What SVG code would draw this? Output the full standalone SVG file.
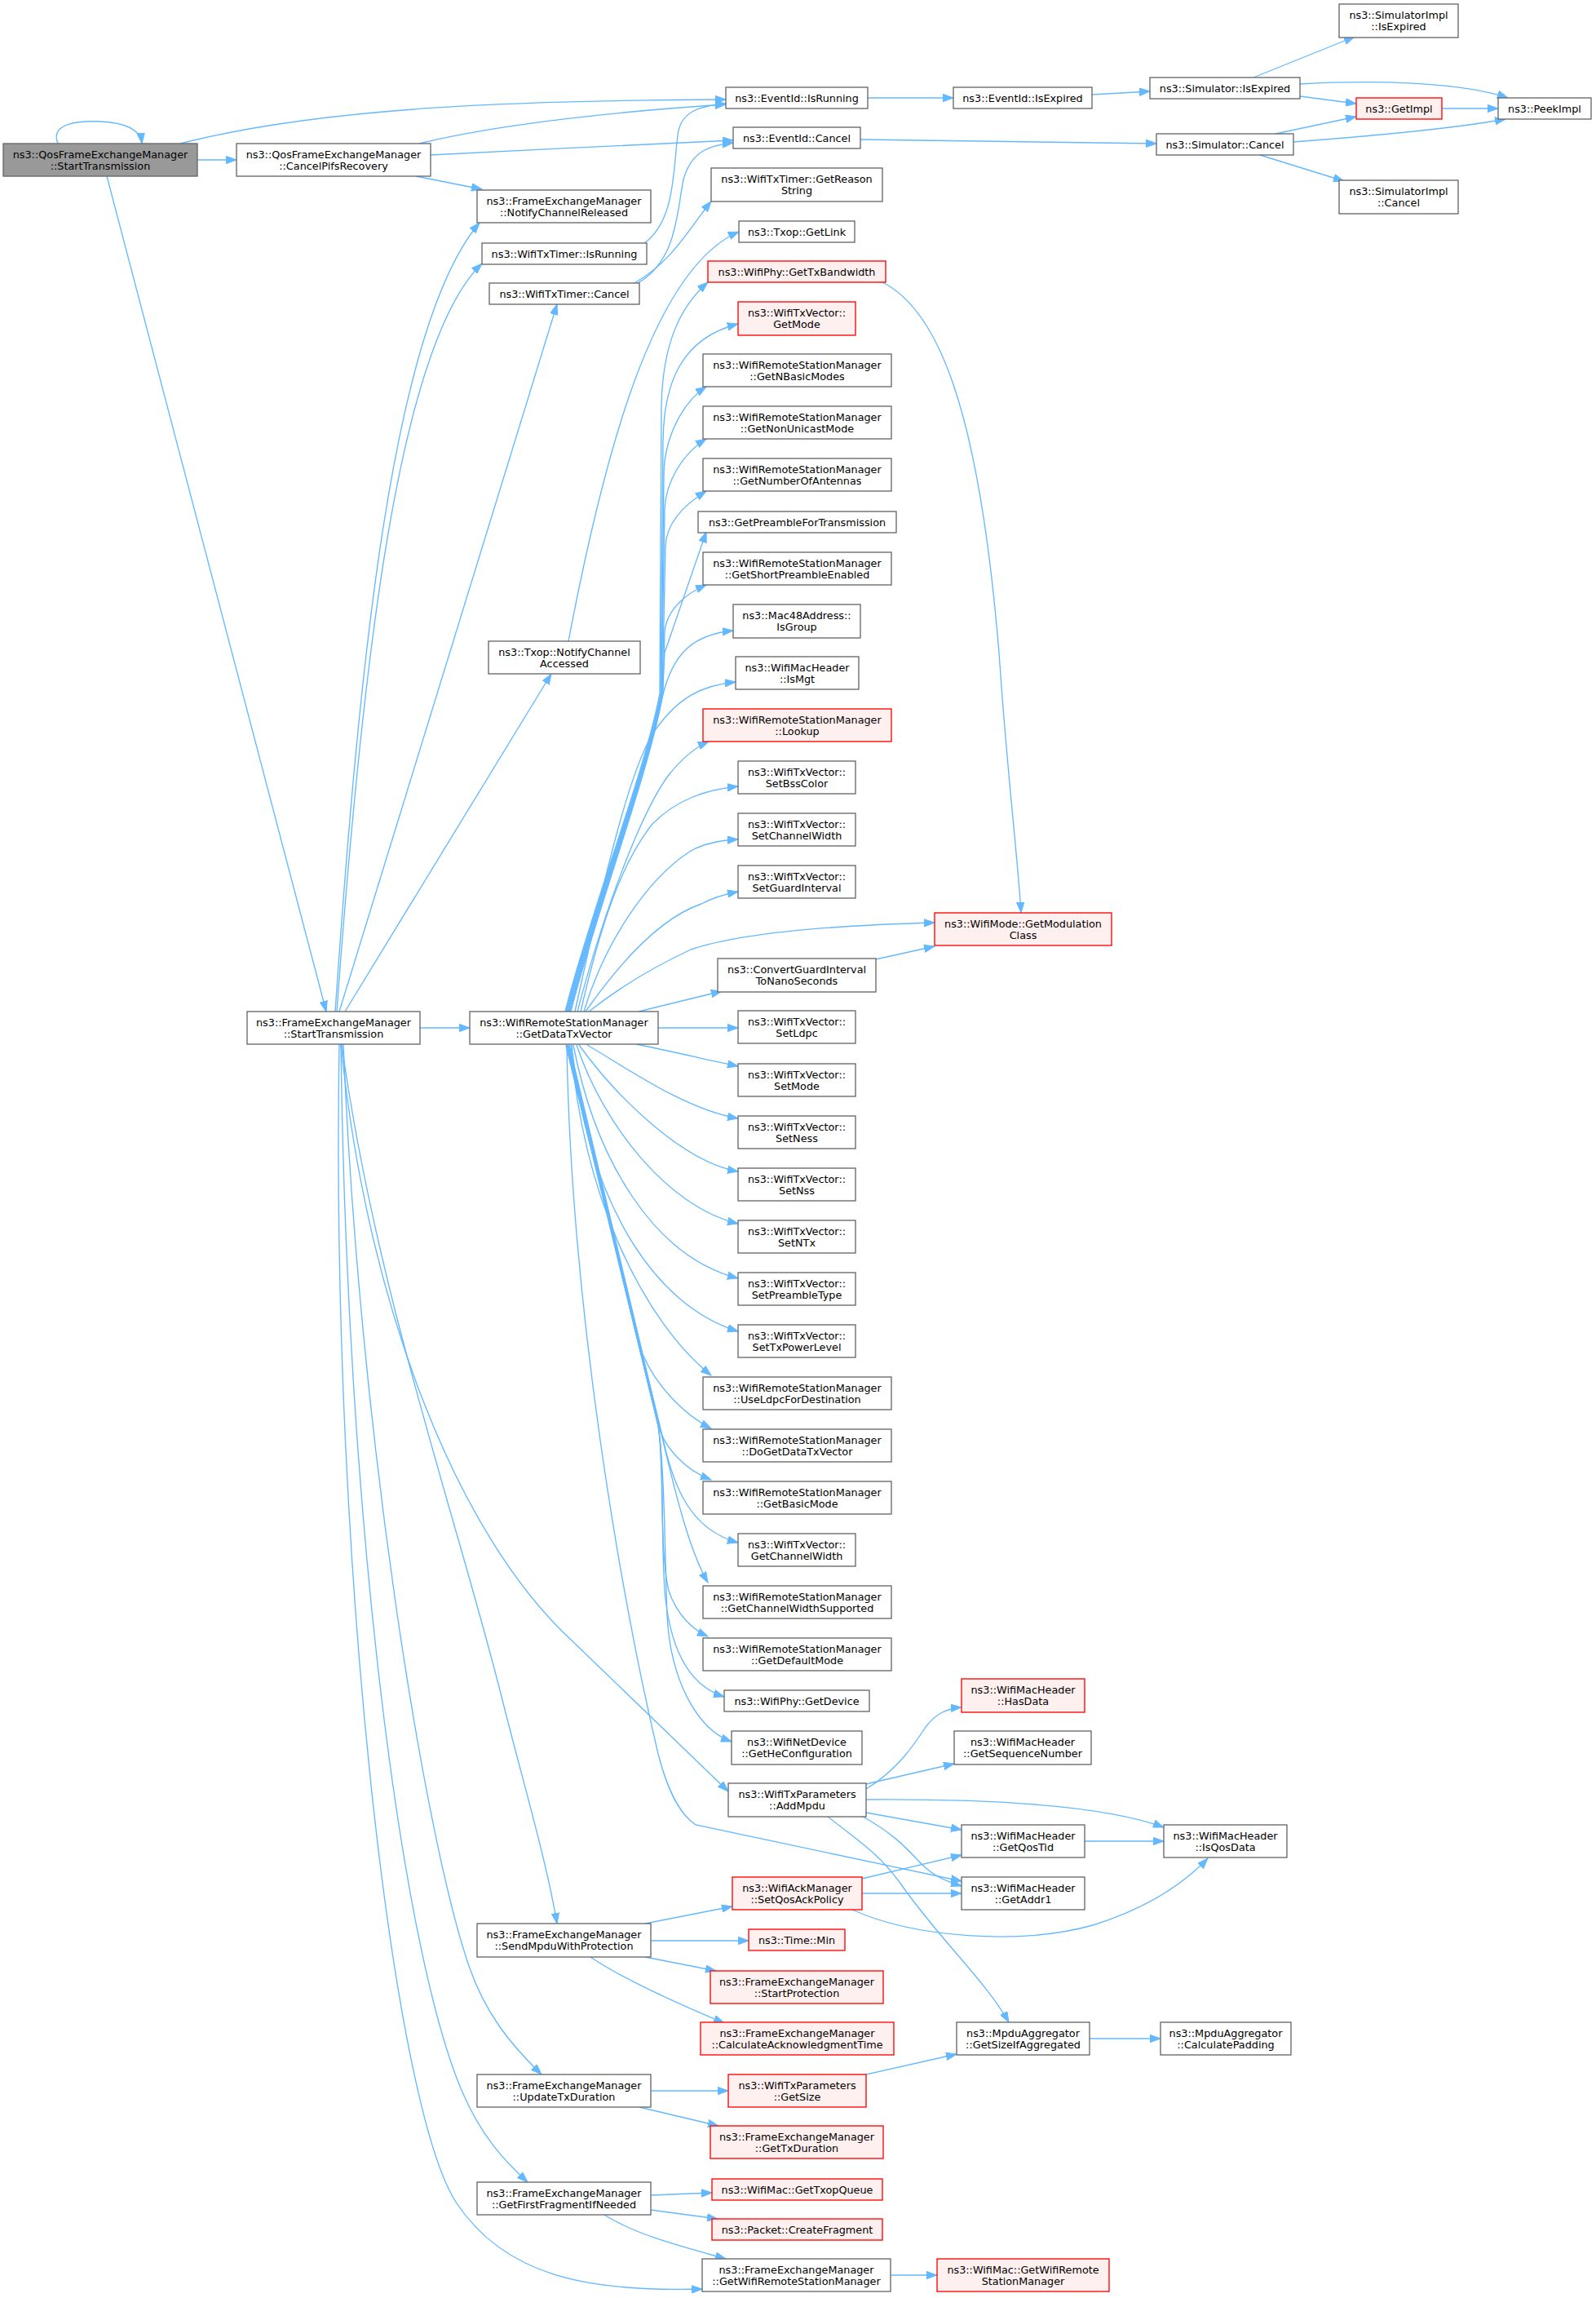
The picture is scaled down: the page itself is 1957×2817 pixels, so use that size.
<svg xmlns="http://www.w3.org/2000/svg" width="1957" height="2817" viewBox="0 0 1957 2817">
<defs>
<marker id="a" markerUnits="userSpaceOnUse" markerWidth="14" markerHeight="10" refX="13" refY="5" orient="auto"><path d="M0,0.3 L13,5 L0,9.7 Z" fill="#63b8ff" stroke="#63b8ff" stroke-width="1"/></marker>
</defs>
<style>
rect{fill:#ffffff;stroke:#666666;stroke-width:1.33}
.r rect{fill:#fff0f0;stroke:#ff0000}
.root rect{fill:#999999;stroke:#666666}
text{font-family:"DejaVu Sans","Liberation Sans",sans-serif;font-size:12.8px;text-anchor:middle;fill:#000000}
#edges path{fill:none;stroke:#63b8ff;stroke-width:1.33;marker-end:url(#a)}
</style>
<rect x="0" y="0" width="1957" height="2817" style="fill:#ffffff;stroke:none"/>
<g id="edges">
<path d="M71,176 C60,150 100,148 122,149 C148,150 172,156 174,176"/>
<path d="M242,196 L290,196"/>
<path d="M221,176 C400,130 650,123 890,122"/>
<path d="M131,216 L400,1240"/>
<path d="M514,176 C620,150 780,135 890,128"/>
<path d="M528,190 C650,184 780,177 899,172"/>
<path d="M510,216 L591,232"/>
<path d="M1064,120 L1169,120"/>
<path d="M1339,116 L1410,112"/>
<path d="M1537,95 L1661,45"/>
<path d="M1594,118 L1663,127"/>
<path d="M1594,103 C1680,98 1790,100 1849,120"/>
<path d="M1768,133 L1837,133"/>
<path d="M1055,171 L1418,176"/>
<path d="M1564,164 L1663,143"/>
<path d="M1586,174 C1680,167 1780,158 1846,146"/>
<path d="M1545,190 L1648,222"/>
<path d="M790,298 C830,270 825,200 832,160 C838,135 860,130 890,127"/>
<path d="M782,347 C830,320 830,260 838,220 C848,185 870,178 899,175"/>
<path d="M778,347 C825,320 845,280 872,247"/>
<path d="M697,786 C740,560 800,330 906,284"/>
<path d="M411,1240 C440,820 480,400 588,273"/>
<path d="M413,1240 C445,800 490,420 591,323"/>
<path d="M416,1240 L683,373"/>
<path d="M423,1240 L676,826"/>
<path d="M515,1260 L576,1260"/>
<path d="M418,1280 C450,1600 560,1880 700,2010 L893,2196"/>
<path d="M419,1280 C460,1580 560,1860 615,2080 C640,2180 670,2280 683,2358"/>
<path d="M421,1280 C440,1750 520,2250 575,2410 C595,2468 625,2505 664,2543"/>
<path d="M418,1280 C425,1850 490,2380 565,2560 C590,2620 620,2650 647,2675"/>
<path d="M416,1280 C405,1900 480,2580 560,2701 C620,2790 720,2810 861,2806"/>
<path d="M693,1240 C723,1120 790,950 809,850 L811,500 C812,420 835,375 868,346"/>
<path d="M694,1240 C724,1120 791,950 810,850 L813,540 C814,470 835,415 905,397"/>
<path d="M695,1240 C725,1120 792,950 811,850 L814,580 C815,535 838,492 866,474"/>
<path d="M696,1240 C726,1120 792,950 811,850 L815,625 C816,590 838,555 866,538"/>
<path d="M697,1240 C727,1120 793,950 812,850 L816,670 C817,640 840,618 866,602"/>
<path d="M698,1240 C728,1120 793,950 812,850 L815,800 L866,652"/>
<path d="M699,1240 C729,1120 794,950 813,850 L815,775 C817,748 840,728 866,717"/>
<path d="M700,1240 C730,1120 795,950 812,855 C825,800 850,778 899,773"/>
<path d="M705,1240 C740,1080 770,950 800,900 C830,855 860,840 902,836"/>
<path d="M708,1240 C745,1100 790,990 820,950 C840,925 855,915 869,909"/>
<path d="M712,1240 C735,1140 760,1060 800,1010 C830,980 865,968 905,964"/>
<path d="M716,1240 C740,1160 790,1080 847,1043 C865,1033 885,1030 905,1029"/>
<path d="M718,1240 C760,1180 810,1125 860,1108 C875,1100 890,1096 905,1093"/>
<path d="M722,1240 C760,1210 800,1186 847,1164 C900,1146 1000,1135 1146,1131"/>
<path d="M783,1240 L885,1215"/>
<path d="M807,1260 L905,1260"/>
<path d="M780,1280 C830,1290 870,1300 905,1307"/>
<path d="M720,1281 C770,1310 840,1360 905,1371"/>
<path d="M710,1281 C760,1350 840,1425 905,1436"/>
<path d="M707,1281 C740,1380 820,1480 905,1500"/>
<path d="M703,1281 C730,1420 800,1540 905,1567"/>
<path d="M701,1281 C720,1470 800,1600 905,1632"/>
<path d="M700,1281 C715,1470 790,1620 872,1686"/>
<path d="M698,1281 L788,1660 C805,1700 840,1735 872,1751"/>
<path d="M697,1281 L807,1747 C815,1775 840,1802 872,1814"/>
<path d="M696,1281 L812,1760 C825,1820 845,1875 905,1891"/>
<path d="M696,1281 L812,1762 C828,1830 845,1900 868,1940"/>
<path d="M695,1281 L807,1747 C815,1800 808,1900 820,1950 C830,1980 850,1998 868,2006"/>
<path d="M694,1281 L807,1747 C815,1800 810,1870 815,1950 C822,2030 850,2068 888,2080"/>
<path d="M694,1281 L807,1747 C815,1800 815,1900 818,1980 C822,2060 855,2120 897,2135"/>
<path d="M695,1281 C700,1600 760,1950 807,2150 C820,2200 835,2225 853,2237 L1179,2306"/>
<path d="M1082,346 C1150,380 1200,500 1225,800 C1235,950 1248,1050 1252,1119"/>
<path d="M1074,1176 L1146,1160"/>
<path d="M1062,2193 C1100,2170 1120,2140 1135,2117 C1148,2100 1162,2094 1179,2093"/>
<path d="M1062,2187 L1170,2162"/>
<path d="M1062,2206 C1200,2205 1350,2212 1427,2240"/>
<path d="M1062,2222 L1179,2243"/>
<path d="M1058,2227 C1100,2250 1115,2270 1130,2285 C1145,2300 1160,2306 1179,2312"/>
<path d="M1015,2227 C1060,2262 1080,2275 1105,2310 C1150,2375 1210,2430 1237,2479"/>
<path d="M1330,2257 L1427,2257"/>
<path d="M1057,2303 L1179,2274"/>
<path d="M1057,2321 L1179,2321"/>
<path d="M1045,2341 C1120,2375 1250,2385 1340,2360 C1420,2335 1460,2300 1481,2278"/>
<path d="M791,2358 L898,2337"/>
<path d="M798,2379 L918,2379"/>
<path d="M791,2399 L878,2416"/>
<path d="M724,2399 C770,2430 840,2460 888,2480"/>
<path d="M798,2563 L893,2563"/>
<path d="M784,2583 L881,2606"/>
<path d="M1062,2543 L1173,2518"/>
<path d="M1336,2499 L1423,2499"/>
<path d="M798,2691 L873,2688"/>
<path d="M798,2709 L880,2720"/>
<path d="M741,2715 C780,2740 840,2755 890,2769"/>
<path d="M1092,2789 L1149,2789"/>
</g>
<g id="n0" class="root"><rect x="4" y="176" width="238" height="40"/><text><tspan x="123" y="193.6">ns3::QosFrameExchangeManager</tspan><tspan x="123" y="207.6">::StartTransmission</tspan></text></g>
<g id="n1"><rect x="290" y="176" width="238" height="40"/><text><tspan x="409" y="193.6">ns3::QosFrameExchangeManager</tspan><tspan x="409" y="207.6">::CancelPifsRecovery</tspan></text></g>
<g id="n2"><rect x="303" y="1240" width="212" height="40"/><text><tspan x="409" y="1257.6">ns3::FrameExchangeManager</tspan><tspan x="409" y="1271.6">::StartTransmission</tspan></text></g>
<g id="n3"><rect x="585" y="233" width="213" height="40"/><text><tspan x="691.5" y="250.6">ns3::FrameExchangeManager</tspan><tspan x="691.5" y="264.6">::NotifyChannelReleased</tspan></text></g>
<g id="n4"><rect x="591" y="298" width="202" height="26"/><text x="692" y="315.6">ns3::WifiTxTimer::IsRunning</text></g>
<g id="n5"><rect x="600" y="347" width="184" height="26"/><text x="692" y="364.6">ns3::WifiTxTimer::Cancel</text></g>
<g id="n6"><rect x="599" y="786" width="186" height="40"/><text><tspan x="692" y="803.6">ns3::Txop::NotifyChannel</tspan><tspan x="692" y="817.6">Accessed</tspan></text></g>
<g id="n7"><rect x="576" y="1240" width="231" height="40"/><text><tspan x="691.5" y="1257.6">ns3::WifiRemoteStationManager</tspan><tspan x="691.5" y="1271.6">::GetDataTxVector</tspan></text></g>
<g id="n8"><rect x="585" y="2358" width="213" height="41"/><text><tspan x="691.5" y="2376">ns3::FrameExchangeManager</tspan><tspan x="691.5" y="2390">::SendMpduWithProtection</tspan></text></g>
<g id="n9"><rect x="585" y="2543" width="213" height="40"/><text><tspan x="691.5" y="2560.6">ns3::FrameExchangeManager</tspan><tspan x="691.5" y="2574.6">::UpdateTxDuration</tspan></text></g>
<g id="n10"><rect x="585" y="2675" width="213" height="40"/><text><tspan x="691.5" y="2692.6">ns3::FrameExchangeManager</tspan><tspan x="691.5" y="2706.6">::GetFirstFragmentIfNeeded</tspan></text></g>
<g id="n11"><rect x="890" y="107" width="174" height="26"/><text x="977" y="124.6">ns3::EventId::IsRunning</text></g>
<g id="n12"><rect x="899" y="156" width="156" height="26"/><text x="977" y="173.6">ns3::EventId::Cancel</text></g>
<g id="n13"><rect x="872" y="206" width="210" height="41"/><text><tspan x="977" y="224">ns3::WifiTxTimer::GetReason</tspan><tspan x="977" y="238">String</tspan></text></g>
<g id="n14"><rect x="906" y="271" width="142" height="26"/><text x="977" y="288.6">ns3::Txop::GetLink</text></g>
<g id="n15" class="r"><rect x="868" y="320" width="218" height="26"/><text x="977" y="337.6">ns3::WifiPhy::GetTxBandwidth</text></g>
<g id="n16" class="r"><rect x="905" y="370" width="144" height="41"/><text><tspan x="977" y="388">ns3::WifiTxVector::</tspan><tspan x="977" y="402">GetMode</tspan></text></g>
<g id="n17"><rect x="862" y="434" width="231" height="40"/><text><tspan x="977.5" y="451.6">ns3::WifiRemoteStationManager</tspan><tspan x="977.5" y="465.6">::GetNBasicModes</tspan></text></g>
<g id="n18"><rect x="862" y="498" width="231" height="40"/><text><tspan x="977.5" y="515.6">ns3::WifiRemoteStationManager</tspan><tspan x="977.5" y="529.6">::GetNonUnicastMode</tspan></text></g>
<g id="n19"><rect x="862" y="562" width="231" height="40"/><text><tspan x="977.5" y="579.6">ns3::WifiRemoteStationManager</tspan><tspan x="977.5" y="593.6">::GetNumberOfAntennas</tspan></text></g>
<g id="n20"><rect x="856" y="627" width="243" height="26"/><text x="977.5" y="644.6">ns3::GetPreambleForTransmission</text></g>
<g id="n21"><rect x="862" y="677" width="231" height="40"/><text><tspan x="977.5" y="694.6">ns3::WifiRemoteStationManager</tspan><tspan x="977.5" y="708.6">::GetShortPreambleEnabled</tspan></text></g>
<g id="n22"><rect x="899" y="741" width="156" height="41"/><text><tspan x="977" y="759">ns3::Mac48Address::</tspan><tspan x="977" y="773">IsGroup</tspan></text></g>
<g id="n23"><rect x="902" y="805" width="151" height="40"/><text><tspan x="977.5" y="822.6">ns3::WifiMacHeader</tspan><tspan x="977.5" y="836.6">::IsMgt</tspan></text></g>
<g id="n24" class="r"><rect x="862" y="869" width="231" height="40"/><text><tspan x="977.5" y="886.6">ns3::WifiRemoteStationManager</tspan><tspan x="977.5" y="900.6">::Lookup</tspan></text></g>
<g id="n25"><rect x="905" y="933" width="144" height="40"/><text><tspan x="977" y="950.6">ns3::WifiTxVector::</tspan><tspan x="977" y="964.6">SetBssColor</tspan></text></g>
<g id="n26"><rect x="905" y="997" width="144" height="40"/><text><tspan x="977" y="1014.6">ns3::WifiTxVector::</tspan><tspan x="977" y="1028.6">SetChannelWidth</tspan></text></g>
<g id="n27"><rect x="905" y="1061" width="144" height="40"/><text><tspan x="977" y="1078.6">ns3::WifiTxVector::</tspan><tspan x="977" y="1092.6">SetGuardInterval</tspan></text></g>
<g id="n28"><rect x="880" y="1175" width="194" height="41"/><text><tspan x="977" y="1193">ns3::ConvertGuardInterval</tspan><tspan x="977" y="1207">ToNanoSeconds</tspan></text></g>
<g id="n29"><rect x="905" y="1239" width="144" height="40"/><text><tspan x="977" y="1256.6">ns3::WifiTxVector::</tspan><tspan x="977" y="1270.6">SetLdpc</tspan></text></g>
<g id="n30"><rect x="905" y="1304" width="144" height="40"/><text><tspan x="977" y="1321.6">ns3::WifiTxVector::</tspan><tspan x="977" y="1335.6">SetMode</tspan></text></g>
<g id="n31"><rect x="905" y="1368" width="144" height="40"/><text><tspan x="977" y="1385.6">ns3::WifiTxVector::</tspan><tspan x="977" y="1399.6">SetNess</tspan></text></g>
<g id="n32"><rect x="905" y="1432" width="144" height="40"/><text><tspan x="977" y="1449.6">ns3::WifiTxVector::</tspan><tspan x="977" y="1463.6">SetNss</tspan></text></g>
<g id="n33"><rect x="905" y="1496" width="144" height="40"/><text><tspan x="977" y="1513.6">ns3::WifiTxVector::</tspan><tspan x="977" y="1527.6">SetNTx</tspan></text></g>
<g id="n34"><rect x="905" y="1560" width="144" height="40"/><text><tspan x="977" y="1577.6">ns3::WifiTxVector::</tspan><tspan x="977" y="1591.6">SetPreambleType</tspan></text></g>
<g id="n35"><rect x="905" y="1624" width="144" height="40"/><text><tspan x="977" y="1641.6">ns3::WifiTxVector::</tspan><tspan x="977" y="1655.6">SetTxPowerLevel</tspan></text></g>
<g id="n36"><rect x="862" y="1688" width="231" height="40"/><text><tspan x="977.5" y="1705.6">ns3::WifiRemoteStationManager</tspan><tspan x="977.5" y="1719.6">::UseLdpcForDestination</tspan></text></g>
<g id="n37"><rect x="862" y="1752" width="231" height="40"/><text><tspan x="977.5" y="1769.6">ns3::WifiRemoteStationManager</tspan><tspan x="977.5" y="1783.6">::DoGetDataTxVector</tspan></text></g>
<g id="n38"><rect x="862" y="1816" width="231" height="40"/><text><tspan x="977.5" y="1833.6">ns3::WifiRemoteStationManager</tspan><tspan x="977.5" y="1847.6">::GetBasicMode</tspan></text></g>
<g id="n39"><rect x="905" y="1880" width="144" height="40"/><text><tspan x="977" y="1897.6">ns3::WifiTxVector::</tspan><tspan x="977" y="1911.6">GetChannelWidth</tspan></text></g>
<g id="n40"><rect x="862" y="1944" width="231" height="40"/><text><tspan x="977.5" y="1961.6">ns3::WifiRemoteStationManager</tspan><tspan x="977.5" y="1975.6">::GetChannelWidthSupported</tspan></text></g>
<g id="n41"><rect x="862" y="2008" width="231" height="40"/><text><tspan x="977.5" y="2025.6">ns3::WifiRemoteStationManager</tspan><tspan x="977.5" y="2039.6">::GetDefaultMode</tspan></text></g>
<g id="n42"><rect x="888" y="2072" width="178" height="26"/><text x="977" y="2089.6">ns3::WifiPhy::GetDevice</text></g>
<g id="n43"><rect x="897" y="2122" width="160" height="41"/><text><tspan x="977" y="2140">ns3::WifiNetDevice</tspan><tspan x="977" y="2154">::GetHeConfiguration</tspan></text></g>
<g id="n44"><rect x="893" y="2186" width="169" height="41"/><text><tspan x="977.5" y="2204">ns3::WifiTxParameters</tspan><tspan x="977.5" y="2218">::AddMpdu</tspan></text></g>
<g id="n45" class="r"><rect x="898" y="2301" width="159" height="40"/><text><tspan x="977.5" y="2318.6">ns3::WifiAckManager</tspan><tspan x="977.5" y="2332.6">::SetQosAckPolicy</tspan></text></g>
<g id="n46" class="r"><rect x="918" y="2365" width="118" height="26"/><text x="977" y="2382.6">ns3::Time::Min</text></g>
<g id="n47" class="r"><rect x="871" y="2416" width="212" height="40"/><text><tspan x="977" y="2433.6">ns3::FrameExchangeManager</tspan><tspan x="977" y="2447.6">::StartProtection</tspan></text></g>
<g id="n48" class="r"><rect x="859" y="2479" width="237" height="40"/><text><tspan x="977.5" y="2496.6">ns3::FrameExchangeManager</tspan><tspan x="977.5" y="2510.6">::CalculateAcknowledgmentTime</tspan></text></g>
<g id="n49" class="r"><rect x="893" y="2543" width="169" height="40"/><text><tspan x="977.5" y="2560.6">ns3::WifiTxParameters</tspan><tspan x="977.5" y="2574.6">::GetSize</tspan></text></g>
<g id="n50" class="r"><rect x="871" y="2606" width="212" height="40"/><text><tspan x="977" y="2623.6">ns3::FrameExchangeManager</tspan><tspan x="977" y="2637.6">::GetTxDuration</tspan></text></g>
<g id="n51" class="r"><rect x="873" y="2671" width="209" height="26"/><text x="977.5" y="2688.6">ns3::WifiMac::GetTxopQueue</text></g>
<g id="n52" class="r"><rect x="873" y="2720" width="209" height="26"/><text x="977.5" y="2737.6">ns3::Packet::CreateFragment</text></g>
<g id="n53"><rect x="861" y="2769" width="231" height="40"/><text><tspan x="976.5" y="2786.6">ns3::FrameExchangeManager</tspan><tspan x="976.5" y="2800.6">::GetWifiRemoteStationManager</tspan></text></g>
<g id="n54"><rect x="1169" y="107" width="170" height="26"/><text x="1254" y="124.6">ns3::EventId::IsExpired</text></g>
<g id="n55" class="r"><rect x="1146" y="1119" width="217" height="40"/><text><tspan x="1254.5" y="1136.6">ns3::WifiMode::GetModulation</tspan><tspan x="1254.5" y="1150.6">Class</tspan></text></g>
<g id="n56" class="r"><rect x="1179" y="2058" width="151" height="41"/><text><tspan x="1254.5" y="2076">ns3::WifiMacHeader</tspan><tspan x="1254.5" y="2090">::HasData</tspan></text></g>
<g id="n57"><rect x="1170" y="2122" width="168" height="41"/><text><tspan x="1254" y="2140">ns3::WifiMacHeader</tspan><tspan x="1254" y="2154">::GetSequenceNumber</tspan></text></g>
<g id="n58"><rect x="1179" y="2237" width="151" height="40"/><text><tspan x="1254.5" y="2254.6">ns3::WifiMacHeader</tspan><tspan x="1254.5" y="2268.6">::GetQosTid</tspan></text></g>
<g id="n59"><rect x="1179" y="2301" width="151" height="40"/><text><tspan x="1254.5" y="2318.6">ns3::WifiMacHeader</tspan><tspan x="1254.5" y="2332.6">::GetAddr1</tspan></text></g>
<g id="n60"><rect x="1173" y="2479" width="163" height="40"/><text><tspan x="1254.5" y="2496.6">ns3::MpduAggregator</tspan><tspan x="1254.5" y="2510.6">::GetSizeIfAggregated</tspan></text></g>
<g id="n61" class="r"><rect x="1149" y="2769" width="211" height="40"/><text><tspan x="1254.5" y="2786.6">ns3::WifiMac::GetWifiRemote</tspan><tspan x="1254.5" y="2800.6">StationManager</tspan></text></g>
<g id="n62"><rect x="1410" y="95" width="184" height="26"/><text x="1502" y="112.6">ns3::Simulator::IsExpired</text></g>
<g id="n63"><rect x="1418" y="164" width="168" height="26"/><text x="1502" y="181.6">ns3::Simulator::Cancel</text></g>
<g id="n64"><rect x="1427" y="2237" width="151" height="40"/><text><tspan x="1502.5" y="2254.6">ns3::WifiMacHeader</tspan><tspan x="1502.5" y="2268.6">::IsQosData</tspan></text></g>
<g id="n65"><rect x="1423" y="2479" width="160" height="40"/><text><tspan x="1503" y="2496.6">ns3::MpduAggregator</tspan><tspan x="1503" y="2510.6">::CalculatePadding</tspan></text></g>
<g id="n66"><rect x="1642" y="5" width="146" height="41"/><text><tspan x="1715" y="23">ns3::SimulatorImpl</tspan><tspan x="1715" y="37">::IsExpired</tspan></text></g>
<g id="n67" class="r"><rect x="1663" y="120" width="105" height="26"/><text x="1715.5" y="137.6">ns3::GetImpl</text></g>
<g id="n68"><rect x="1642" y="221" width="146" height="41"/><text><tspan x="1715" y="239">ns3::SimulatorImpl</tspan><tspan x="1715" y="253">::Cancel</tspan></text></g>
<g id="n69"><rect x="1837" y="120" width="114" height="26"/><text x="1894" y="137.6">ns3::PeekImpl</text></g>
</svg>
